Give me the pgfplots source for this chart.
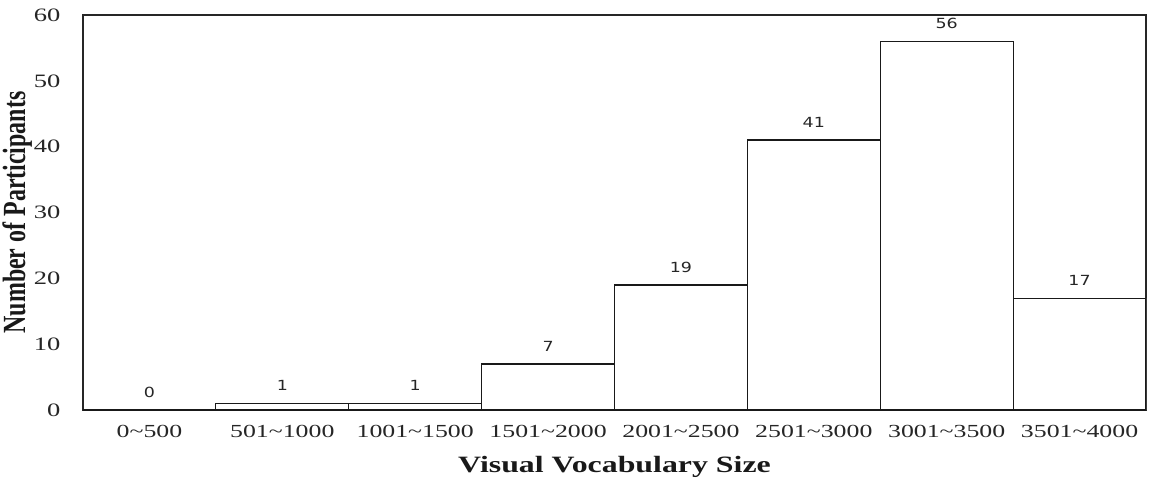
\documentclass[border=0pt]{standalone}
\usepackage{fontspec}
\setmainfont{Liberation Serif}
\newfontfamily\tickfont[FakeStretch=1.4]{Liberation Serif}
\newfontfamily\xlabfont[FakeStretch=1.36]{Liberation Serif Bold}
\newfontfamily\ylabfont{Liberation Serif Bold}
\newfontfamily\valfont[FakeStretch=1.25]{DejaVu Sans}
\usepackage{pgfplots}
\usepackage{graphicx}
\pgfplotsset{compat=1.18}
\pgfplotstableread{
x y
0 0
1 1
2 1
3 7
4 19
5 41
6 56
7 17
}\datatable
\begin{document}
\begin{tikzpicture}
\begin{axis}[name=ax, scale only axis, width=1063bp, height=395bp,
  ybar, bar width=1, ymin=0, ymax=60, xmin=-0.5, xmax=7.5,
  ytick={0,10,...,60}, xtick={0,...,7},
  xticklabels={0\textasciitilde500, 501\textasciitilde1000, 1001\textasciitilde1500, 1501\textasciitilde2000, 2001\textasciitilde2500, 2501\textasciitilde3000, 3001\textasciitilde3500, 3501\textasciitilde4000},
  major tick length=0, minor tick length=0,
  axis line style={line width=1.3bp, black!85},
  /pgf/number format/assume math mode=true,
  yticklabel style={font=\fontsize{19}{19}\selectfont\tickfont, anchor=east, xshift=-19bp, text=black!85},
  xticklabel style={font=\fontsize{18.5}{18.5}\selectfont\tickfont, anchor=north, yshift=-12bp, text=black!85},
  xlabel={\fontsize{23.5}{23.5}\selectfont\xlabfont Visual Vocabulary Size},
  xlabel style={at={(axis description cs:0.5,-0.157)}, anchor=base, text=black!90},
  ylabel={\scalebox{1}[1.35]{\fontsize{24}{24}\selectfont\ylabfont Number of Participants}},
  ylabel style={at={(axis description cs:-0.0545,0.5)}, anchor=base, rotate=0, text=black!90},
  nodes near coords,
  every node near coord/.append style={font=\fontsize{14}{14}\selectfont\valfont, anchor=center, yshift=18bp, text=black!85},
]
\addplot[draw=black!90, fill=white, line width=1.2bp] table[x=x, y=y] {\datatable};
\end{axis}
\pgfresetboundingbox
\useasboundingbox ([shift={(-83bp,-68bp)}]ax.south west) rectangle ([shift={(3bp,15bp)}]ax.north east);
\end{tikzpicture}
\end{document}
